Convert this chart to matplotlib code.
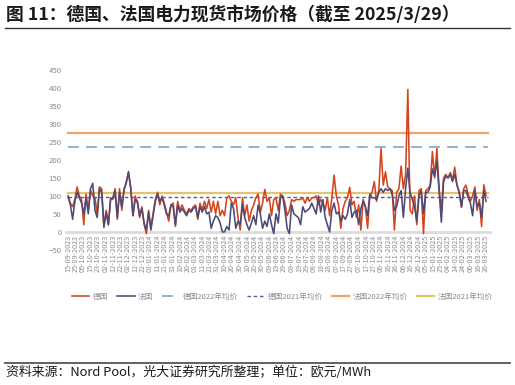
import matplotlib.pyplot as plt
import numpy as np

plt.rcParams['font.family'] = ['Noto Sans CJK SC', 'DejaVu Sans']

# daily spot price, sampled every 3rd trading day (EUR/MWh)
step = 3
de_price = [95, 80, 70, 90, 125, 100, 90, 20, 105, 60,
            115, 100, 95, 50, 125, 120, 12, 60, 20, 95,
            90, 120, 35, 120, 60, 115, 140, 165, 125, 45,
            100, 80, 40, 70, 20, -5, 60, 10, 50, 90,
            110, 75, 100, 80, 55, 30, 75, 80, 15, 85,
            60, 75, 60, 50, 65, 60, 70, 75, 35, 80,
            60, 85, 65, 90, 55, 85, 50, 85, 45, 60,
            45, 95, 100, 85, 75, 95, 40, 5, 95, 45,
            75, 30, 60, 75, 95, 105, 55, 80, 118, 85,
            95, 45, 90, 95, 60, 105, 100, 80, 45, 60,
            90, 85, 90, 90, 90, 95, 80, 95, 85, 95,
            95, 100, 75, 90, 80, 60, 95, 45, 95, 158,
            100, 75, 10, 65, 85, 95, 124, 75, 85, 40,
            75, 5, 90, 70, 10, 100, 110, 140, 85, 115,
            232, 130, 167, 125, 120, 115, 5, 110, 120, 183,
            120, 160, 396, 60, 50, 100, 20, 115, 120, -5,
            115, 120, 130, 223, 150, 232, 120, 60, 150, 160,
            150, 165, 145, 180, 130, 110, 68, 120, 130, 105,
            85, 100, 125, 60, 90, 15, 131, 100]
fr_price = [100, 75, 35, 85, 110, 95, 80, 50, 95, 50,
            120, 135, 60, 40, 120, 110, 15, 55, 20, 90,
            95, 115, 40, 110, 70, 120, 135, 168, 120, 45,
            90, 85, 45, 65, 25, 5, 55, 5, 45, 85,
            105, 85, 95, 75, 50, 45, 75, 70, 20, 75,
            55, 65, 55, 45, 60, 55, 65, 70, 40, 70,
            55, 70, 50, 55, 10, 30, 45, 40, 25, 0,
            0, 15, 5, 80, 65, 10, 30, 20, 75, 40,
            20, 5, 25, 45, 20, 75, 50, 10, 30, 15,
            50, 20, -5, 50, 25, 95, 100, 60, 10, -5,
            75, 50, 45, 40, 20, 70, 55, 60, 65, 80,
            65, 50, 100, 55, 90, 40, 20, 0, 60, 80,
            50, 55, 30, 45, 35, 50, 90, 40, 55, 60,
            20, 65, 85, 70, 45, 105, 95, 95, 90, 110,
            120, 110, 120, 115, 120, 105, 60, 70, 100, 115,
            40, 120, 177, 110, 90, 70, 30, 100, 115, 50,
            110, 110, 125, 175, 155, 197, 115, 27, 140, 155,
            150, 160, 140, 160, 130, 110, 70, 115, 115, 95,
            80, 45, 115, 70, 80, 40, 115, 85]

n_days = 564
de_avg_2022 = 235
de_avg_2021 = 97
fr_avg_2022 = 276
fr_avg_2021 = 109

date_labels = ['15-09-2023', '25-09-2023', '05-10-2023', '15-10-2023', '23-10-2023',
               '02-11-2023', '12-11-2023', '22-11-2023', '02-12-2023', '12-12-2023',
               '22-12-2023', '01-01-2024', '11-01-2024', '21-01-2024', '31-01-2024',
               '10-02-2024', '20-02-2024', '01-03-2024', '11-03-2024', '21-03-2024',
               '31-03-2024', '10-04-2024', '20-04-2024', '30-04-2024', '10-05-2024',
               '20-05-2024', '30-05-2024', '09-06-2024', '19-06-2024', '29-06-2024',
               '09-07-2024', '19-07-2024', '29-07-2024', '08-08-2024', '18-08-2024',
               '28-08-2024', '07-09-2024', '17-09-2024', '27-09-2024', '07-10-2024',
               '17-10-2024', '27-10-2024', '06-11-2024', '16-11-2024', '26-11-2024',
               '06-12-2024', '16-12-2024', '26-12-2024', '05-01-2025', '15-01-2025',
               '25-01-2025', '04-02-2025', '14-02-2025', '24-02-2025', '06-03-2025',
               '16-03-2025', '26-03-2025']

x = np.arange(len(de_price)) * step
span = [0, n_days - 1]

fig = plt.figure(figsize=(5.15, 3.85), dpi=100)
ax = fig.add_axes([0.128, 0.351, 0.823, 0.467])

ax.plot(x, de_price, color='#D2461F', lw=1.15, label='德国', zorder=3)
ax.plot(x, fr_price, color='#4E4A78', lw=1.15, label='法国', zorder=4)
ax.plot(span, [de_avg_2022] * 2, color='#86AFC6', lw=1.3, dashes=(6, 4), label='德国2022年均价')
ax.plot(span, [de_avg_2021] * 2, color='#7A4A8E', lw=1.0, dashes=(2.5, 2), label='德国2021年均价')
ax.plot(span, [fr_avg_2022] * 2, color='#F2A366', lw=1.6, label='法国2022年均价')
ax.plot(span, [fr_avg_2021] * 2, color='#E2C36E', lw=1.6, label='法国2021年均价')

for pos in ['right', 'top', 'left']:
    ax.spines[pos].set_visible(False)
ax.spines['bottom'].set_position(('data', 0))
ax.spines['bottom'].set_color('#DCDCDC')
ax.spines['bottom'].set_linewidth(2)
ax.spines['bottom'].set_zorder(1)

ax.set_xlim(-3, 566)
ax.set_ylim(-50, 450)
ax.set_yticks(np.arange(-50, 451, 50))
ax.set_xticks(np.arange(len(date_labels)) * 10)
ax.set_xticklabels(date_labels, rotation=90, fontsize=5.2, color='#8C8C8C')
ax.tick_params(axis='y', labelsize=5.6, labelcolor='#8C8C8C', length=0, pad=3)
ax.tick_params(axis='x', length=0, pad=2)

fig.legend(loc='center', bbox_to_anchor=(0.548, 0.229), ncol=6, frameon=False,
           fontsize=5.5, labelcolor='#8C8C8C', handlelength=2.3, columnspacing=1.2,
           handletextpad=0.4)

fig.text(0.012, 0.962, '图 11：德国、法国电力现货市场价格（截至 2025/3/29）',
         fontsize=12.8, fontweight='bold', color='#1A1A1A', va='center')
fig.add_artist(plt.Line2D([0.01, 0.99], [0.927, 0.927], color='#333333', lw=1.0))
fig.add_artist(plt.Line2D([0.01, 0.99], [0.057, 0.057], color='#555555', lw=1.3))
fig.text(0.012, 0.033, '资料来源：Nord Pool，光大证券研究所整理；单位：欧元/MWh',
         fontsize=9.3, color='#1A1A1A', va='center')

plt.savefig('out.png', dpi=100)
